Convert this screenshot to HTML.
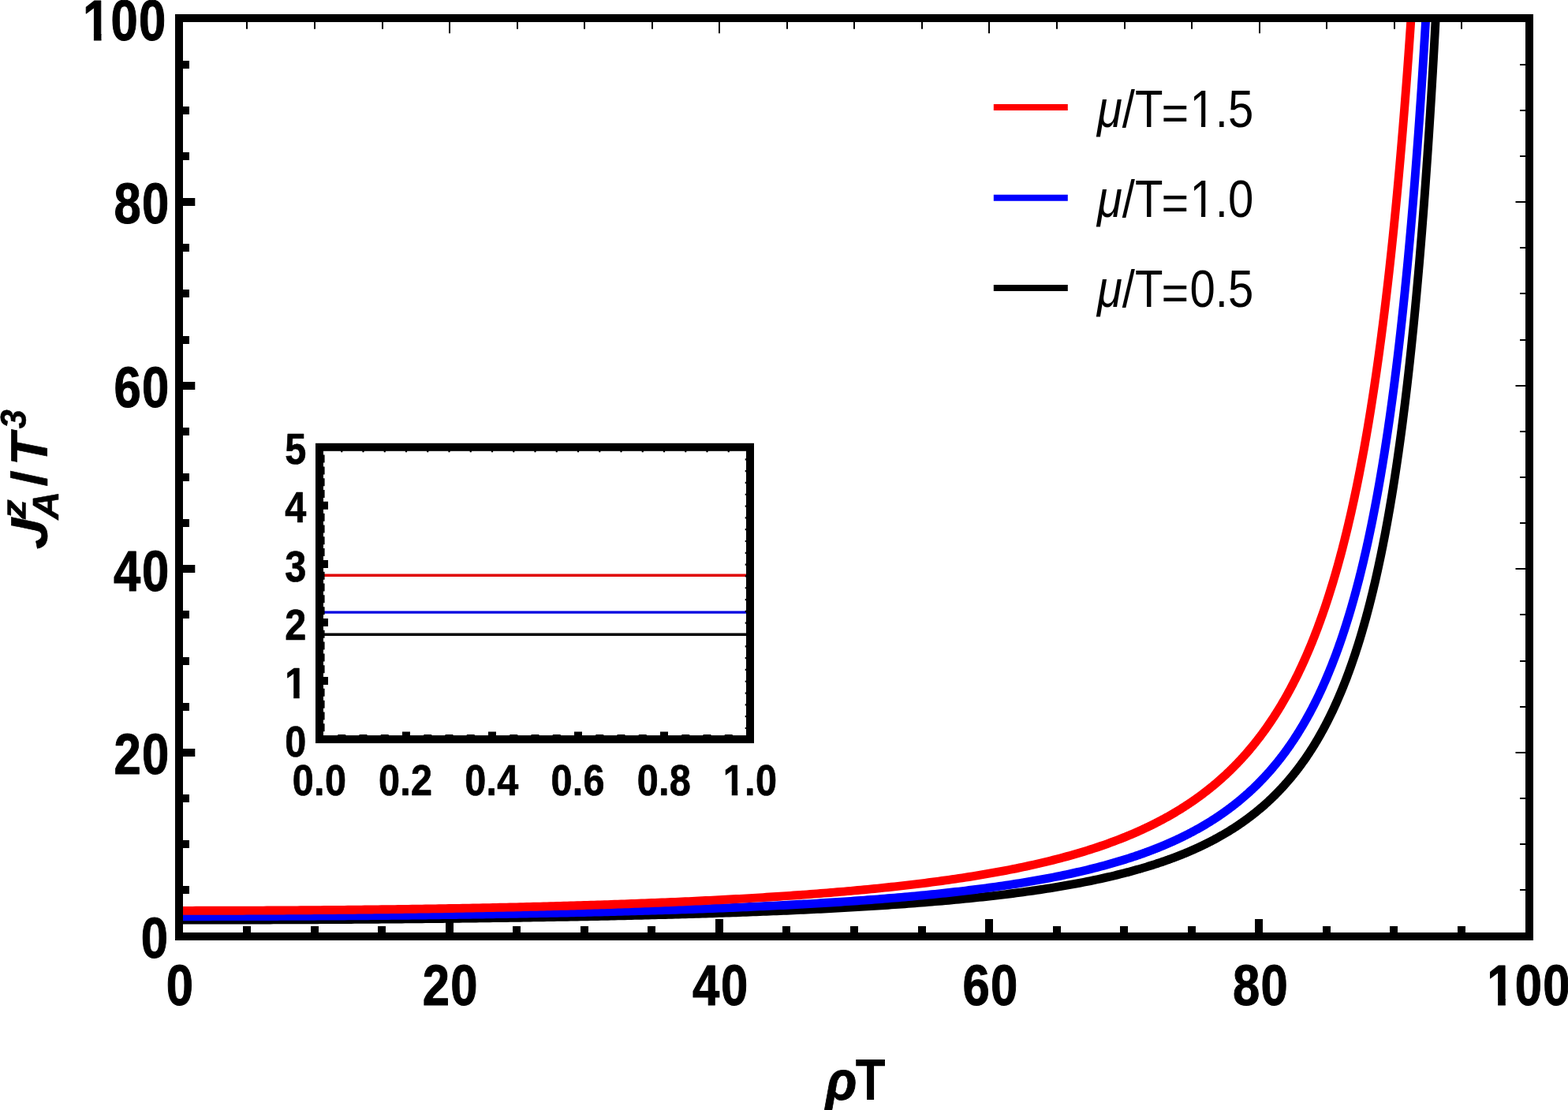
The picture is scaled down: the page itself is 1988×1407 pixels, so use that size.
<!DOCTYPE html>
<html lang="en"><head><meta charset="utf-8"><title>Axial current versus radius</title>
<style>html,body{margin:0;padding:0;background:#fff;}body{width:1988px;height:1407px;overflow:hidden;}svg{display:block;}text{font-family:"Liberation Sans","DejaVu Sans",sans-serif;fill:#000;}.b{font-weight:bold;}.i{font-style:italic;}.r{font-weight:normal;}</style></head><body>
<svg width="1988" height="1407" viewBox="0 0 1988 1407">
<rect x="0" y="0" width="1988" height="1407" fill="#ffffff"/>
<defs><clipPath id="pc"><rect x="227.00" y="23.00" width="1712.00" height="1164.00"/></clipPath><clipPath id="ic"><rect x="405.00" y="566.80" width="546.00" height="370.30"/></clipPath></defs>
<g clip-path="url(#pc)" fill="none" stroke-width="10.9" stroke-linejoin="round">
<path d="M227.00,1166.13 L231.28,1166.13 L235.56,1166.12 L239.84,1166.12 L244.12,1166.12 L248.40,1166.12 L252.68,1166.12 L256.96,1166.11 L261.24,1166.11 L265.52,1166.10 L269.80,1166.10 L274.08,1166.09 L278.36,1166.09 L282.64,1166.08 L286.92,1166.07 L291.20,1166.07 L295.48,1166.06 L299.76,1166.05 L304.04,1166.04 L308.32,1166.03 L312.60,1166.02 L316.88,1166.01 L321.16,1166.00 L325.44,1165.99 L329.72,1165.97 L334.00,1165.96 L338.28,1165.95 L342.56,1165.93 L346.84,1165.92 L351.12,1165.90 L355.40,1165.89 L359.68,1165.87 L363.96,1165.86 L368.24,1165.84 L372.52,1165.82 L376.80,1165.80 L381.08,1165.78 L385.36,1165.76 L389.64,1165.74 L393.92,1165.72 L398.20,1165.70 L402.48,1165.68 L406.76,1165.66 L411.04,1165.63 L415.32,1165.61 L419.60,1165.59 L423.88,1165.56 L428.16,1165.54 L432.44,1165.51 L436.72,1165.48 L441.00,1165.46 L445.28,1165.43 L449.56,1165.40 L453.84,1165.37 L458.12,1165.34 L462.40,1165.31 L466.68,1165.28 L470.96,1165.25 L475.24,1165.22 L479.52,1165.19 L483.80,1165.15 L488.08,1165.12 L492.36,1165.09 L496.64,1165.05 L500.92,1165.01 L505.20,1164.98 L509.48,1164.94 L513.76,1164.90 L518.04,1164.86 L522.32,1164.83 L526.60,1164.79 L530.88,1164.75 L535.16,1164.70 L539.44,1164.66 L543.72,1164.62 L548.00,1164.58 L552.28,1164.53 L556.56,1164.49 L560.84,1164.44 L565.12,1164.40 L569.40,1164.35 L573.68,1164.30 L577.96,1164.25 L582.24,1164.21 L586.52,1164.16 L590.80,1164.10 L595.08,1164.05 L599.36,1164.00 L603.64,1163.95 L607.92,1163.89 L612.20,1163.84 L616.48,1163.78 L620.76,1163.73 L625.04,1163.67 L629.32,1163.61 L633.60,1163.56 L637.88,1163.50 L642.16,1163.44 L646.44,1163.37 L650.72,1163.31 L655.00,1163.25 L659.28,1163.19 L663.56,1163.12 L667.84,1163.06 L672.12,1162.99 L676.40,1162.92 L680.68,1162.85 L684.96,1162.78 L689.24,1162.71 L693.52,1162.64 L697.80,1162.57 L702.08,1162.50 L706.36,1162.42 L710.64,1162.35 L714.92,1162.27 L719.20,1162.19 L723.48,1162.12 L727.76,1162.04 L732.04,1161.96 L736.32,1161.88 L740.60,1161.79 L744.88,1161.71 L749.16,1161.62 L753.44,1161.54 L757.72,1161.45 L762.00,1161.36 L766.28,1161.27 L770.56,1161.18 L774.84,1161.09 L779.12,1161.00 L783.40,1160.90 L787.68,1160.81 L791.96,1160.71 L796.24,1160.61 L800.52,1160.51 L804.80,1160.41 L809.08,1160.31 L813.36,1160.21 L817.64,1160.10 L821.92,1160.00 L826.20,1159.89 L830.48,1159.78 L834.76,1159.67 L839.04,1159.56 L843.32,1159.45 L847.60,1159.33 L851.88,1159.22 L856.16,1159.10 L860.44,1158.98 L864.72,1158.86 L869.00,1158.74 L873.28,1158.61 L877.56,1158.49 L881.84,1158.36 L886.12,1158.23 L890.40,1158.10 L894.68,1157.97 L898.96,1157.83 L903.24,1157.69 L907.52,1157.56 L911.80,1157.42 L916.08,1157.27 L920.36,1157.13 L924.64,1156.99 L928.92,1156.84 L933.20,1156.69 L937.48,1156.54 L941.76,1156.38 L946.04,1156.23 L950.32,1156.07 L954.60,1155.91 L958.88,1155.75 L963.16,1155.58 L967.44,1155.41 L971.72,1155.25 L976.00,1155.07 L980.28,1154.90 L984.56,1154.72 L988.84,1154.54 L993.12,1154.36 L997.40,1154.18 L1001.68,1153.99 L1005.96,1153.80 L1010.24,1153.61 L1014.52,1153.42 L1018.80,1153.22 L1023.08,1153.02 L1027.36,1152.82 L1031.64,1152.61 L1035.92,1152.40 L1040.20,1152.19 L1044.48,1151.97 L1048.76,1151.76 L1053.04,1151.53 L1057.32,1151.31 L1061.60,1151.08 L1065.88,1150.85 L1070.16,1150.62 L1074.44,1150.38 L1078.72,1150.14 L1083.00,1149.89 L1087.28,1149.64 L1091.56,1149.39 L1095.84,1149.13 L1100.12,1148.87 L1104.40,1148.61 L1108.68,1148.34 L1112.96,1148.06 L1117.24,1147.79 L1121.52,1147.50 L1125.80,1147.22 L1130.08,1146.93 L1134.36,1146.63 L1138.64,1146.33 L1142.92,1146.03 L1147.20,1145.72 L1151.48,1145.40 L1155.76,1145.08 L1160.04,1144.76 L1164.32,1144.43 L1168.60,1144.09 L1172.88,1143.75 L1177.16,1143.41 L1181.44,1143.05 L1185.72,1142.69 L1190.00,1142.33 L1194.28,1141.96 L1198.56,1141.58 L1202.84,1141.20 L1207.12,1140.81 L1211.40,1140.41 L1215.68,1140.01 L1219.96,1139.60 L1224.24,1139.18 L1228.52,1138.75 L1232.80,1138.32 L1237.08,1137.88 L1241.36,1137.43 L1245.64,1136.98 L1249.92,1136.51 L1254.20,1136.04 L1258.48,1135.56 L1262.76,1135.06 L1267.04,1134.56 L1271.32,1134.05 L1275.60,1133.54 L1279.88,1133.01 L1284.16,1132.47 L1288.44,1131.92 L1292.72,1131.36 L1297.00,1130.79 L1301.28,1130.20 L1305.56,1129.61 L1309.84,1129.01 L1314.12,1128.39 L1318.40,1127.76 L1322.68,1127.12 L1326.96,1126.46 L1331.24,1125.79 L1335.52,1125.11 L1339.80,1124.41 L1344.08,1123.70 L1348.36,1122.97 L1352.64,1122.23 L1356.92,1121.47 L1361.20,1120.70 L1365.48,1119.90 L1369.76,1119.10 L1374.04,1118.27 L1378.32,1117.42 L1382.60,1116.56 L1386.88,1115.68 L1391.16,1114.77 L1395.44,1113.85 L1399.72,1112.90 L1404.00,1111.94 L1408.28,1110.95 L1412.56,1109.93 L1416.84,1108.90 L1421.12,1107.83 L1425.40,1106.75 L1426.26,1106.52 L1427.11,1106.30 L1427.97,1106.08 L1428.82,1105.86 L1429.68,1105.63 L1430.54,1105.40 L1431.39,1105.18 L1432.25,1104.95 L1433.10,1104.72 L1433.96,1104.49 L1434.82,1104.26 L1435.67,1104.02 L1436.53,1103.79 L1437.38,1103.55 L1438.24,1103.32 L1439.10,1103.08 L1439.95,1102.84 L1440.81,1102.60 L1441.66,1102.36 L1442.52,1102.12 L1443.38,1101.87 L1444.23,1101.63 L1445.09,1101.38 L1445.94,1101.13 L1446.80,1100.89 L1447.66,1100.64 L1448.51,1100.39 L1449.37,1100.13 L1450.22,1099.88 L1451.08,1099.62 L1451.94,1099.37 L1452.79,1099.11 L1453.65,1098.85 L1454.50,1098.59 L1455.36,1098.33 L1456.22,1098.07 L1457.07,1097.80 L1457.93,1097.54 L1458.78,1097.27 L1459.64,1097.00 L1460.50,1096.73 L1461.35,1096.46 L1462.21,1096.19 L1463.06,1095.91 L1463.92,1095.64 L1464.78,1095.36 L1465.63,1095.08 L1466.49,1094.80 L1467.34,1094.52 L1468.20,1094.24 L1469.06,1093.95 L1469.91,1093.67 L1470.77,1093.38 L1471.62,1093.09 L1472.48,1092.80 L1473.34,1092.51 L1474.19,1092.22 L1475.05,1091.92 L1475.90,1091.62 L1476.76,1091.33 L1477.62,1091.03 L1478.47,1090.73 L1479.33,1090.42 L1480.18,1090.12 L1481.04,1089.81 L1481.90,1089.50 L1482.75,1089.19 L1483.61,1088.88 L1484.46,1088.57 L1485.32,1088.25 L1486.18,1087.94 L1487.03,1087.62 L1487.89,1087.30 L1488.74,1086.98 L1489.60,1086.65 L1490.46,1086.33 L1491.31,1086.00 L1492.17,1085.67 L1493.02,1085.34 L1493.88,1085.01 L1494.74,1084.67 L1495.59,1084.34 L1496.45,1084.00 L1497.30,1083.66 L1498.16,1083.32 L1499.02,1082.97 L1499.87,1082.63 L1500.73,1082.28 L1501.58,1081.93 L1502.44,1081.58 L1503.30,1081.22 L1504.15,1080.87 L1505.01,1080.51 L1505.86,1080.15 L1506.72,1079.79 L1507.58,1079.42 L1508.43,1079.05 L1509.29,1078.69 L1510.14,1078.32 L1511.00,1077.94 L1511.86,1077.57 L1512.71,1077.19 L1513.57,1076.81 L1514.42,1076.43 L1515.28,1076.05 L1516.14,1075.66 L1516.99,1075.27 L1517.85,1074.88 L1518.70,1074.49 L1519.56,1074.09 L1520.42,1073.69 L1521.27,1073.29 L1522.13,1072.89 L1522.98,1072.49 L1523.84,1072.08 L1524.70,1071.67 L1525.55,1071.26 L1526.41,1070.84 L1527.26,1070.43 L1528.12,1070.01 L1528.98,1069.58 L1529.83,1069.16 L1530.69,1068.73 L1531.54,1068.30 L1532.40,1067.87 L1533.26,1067.43 L1534.11,1067.00 L1534.97,1066.55 L1535.82,1066.11 L1536.68,1065.67 L1537.54,1065.22 L1538.39,1064.76 L1539.25,1064.31 L1540.10,1063.85 L1540.96,1063.39 L1541.82,1062.93 L1542.67,1062.46 L1543.53,1061.99 L1544.38,1061.52 L1545.24,1061.05 L1546.10,1060.57 L1546.95,1060.09 L1547.81,1059.60 L1548.66,1059.12 L1549.52,1058.63 L1550.38,1058.13 L1551.23,1057.64 L1552.09,1057.14 L1552.94,1056.63 L1553.80,1056.13 L1554.66,1055.62 L1555.51,1055.10 L1556.37,1054.59 L1557.22,1054.07 L1558.08,1053.55 L1558.94,1053.02 L1559.79,1052.49 L1560.65,1051.96 L1561.50,1051.42 L1562.36,1050.88 L1563.22,1050.33 L1564.07,1049.79 L1564.93,1049.24 L1565.78,1048.68 L1566.64,1048.12 L1567.50,1047.56 L1568.35,1046.99 L1569.21,1046.42 L1570.06,1045.85 L1570.92,1045.27 L1571.78,1044.69 L1572.63,1044.10 L1573.49,1043.51 L1574.34,1042.92 L1575.20,1042.32 L1576.06,1041.72 L1576.91,1041.11 L1577.77,1040.50 L1578.62,1039.89 L1579.48,1039.27 L1580.34,1038.65 L1581.19,1038.02 L1582.05,1037.39 L1582.90,1036.75 L1583.76,1036.11 L1584.62,1035.47 L1585.47,1034.82 L1586.33,1034.16 L1587.18,1033.50 L1588.04,1032.84 L1588.90,1032.17 L1589.75,1031.50 L1590.61,1030.82 L1591.46,1030.14 L1592.32,1029.45 L1593.18,1028.76 L1594.03,1028.06 L1594.89,1027.35 L1595.74,1026.65 L1596.60,1025.93 L1597.46,1025.21 L1598.31,1024.49 L1599.17,1023.76 L1600.02,1023.03 L1600.88,1022.29 L1601.74,1021.54 L1602.59,1020.79 L1603.45,1020.04 L1604.30,1019.27 L1605.16,1018.51 L1606.02,1017.73 L1606.87,1016.95 L1607.73,1016.17 L1608.58,1015.38 L1609.44,1014.58 L1610.30,1013.77 L1611.15,1012.97 L1612.01,1012.15 L1612.86,1011.33 L1613.72,1010.50 L1614.58,1009.66 L1615.43,1008.82 L1616.29,1007.98 L1617.14,1007.12 L1618.00,1006.26 L1618.86,1005.39 L1619.71,1004.52 L1620.57,1003.64 L1621.42,1002.75 L1622.28,1001.85 L1623.14,1000.95 L1623.99,1000.04 L1624.85,999.13 L1625.70,998.20 L1626.56,997.27 L1627.42,996.33 L1628.27,995.38 L1629.13,994.43 L1629.98,993.47 L1630.84,992.50 L1631.70,991.52 L1632.55,990.54 L1633.41,989.54 L1634.26,988.54 L1635.12,987.53 L1635.98,986.51 L1636.83,985.48 L1637.69,984.45 L1638.54,983.40 L1639.40,982.35 L1640.26,981.29 L1641.11,980.22 L1641.97,979.14 L1642.82,978.05 L1643.68,976.95 L1644.54,975.85 L1645.39,974.73 L1646.25,973.60 L1647.10,972.47 L1647.96,971.32 L1648.82,970.16 L1649.67,969.00 L1650.53,967.82 L1651.38,966.64 L1652.24,965.44 L1653.10,964.23 L1653.95,963.01 L1654.81,961.79 L1655.66,960.55 L1656.52,959.30 L1657.38,958.03 L1658.23,956.76 L1659.09,955.48 L1659.94,954.18 L1660.80,952.87 L1661.66,951.56 L1662.51,950.22 L1663.37,948.88 L1664.22,947.52 L1665.08,946.16 L1665.94,944.78 L1666.79,943.38 L1667.65,941.98 L1668.50,940.56 L1669.36,939.12 L1670.22,937.68 L1671.07,936.22 L1671.93,934.75 L1672.78,933.26 L1673.64,931.76 L1674.50,930.24 L1675.35,928.71 L1676.21,927.17 L1677.06,925.61 L1677.92,924.03 L1678.78,922.44 L1679.63,920.84 L1680.49,919.22 L1681.34,917.58 L1682.20,915.93 L1683.06,914.26 L1683.91,912.57 L1684.77,910.87 L1685.62,909.15 L1686.48,907.42 L1687.34,905.66 L1688.19,903.89 L1689.05,902.10 L1689.90,900.30 L1690.76,898.47 L1691.62,896.63 L1692.47,894.77 L1693.33,892.89 L1694.18,890.98 L1695.04,889.06 L1695.90,887.12 L1696.75,885.16 L1697.61,883.18 L1698.46,881.18 L1699.32,879.16 L1700.18,877.11 L1701.03,875.05 L1701.89,872.96 L1702.74,870.85 L1703.60,868.72 L1704.46,866.56 L1705.31,864.38 L1706.17,862.18 L1707.02,859.96 L1707.88,857.71 L1708.74,855.43 L1709.59,853.13 L1710.45,850.80 L1711.30,848.45 L1712.16,846.08 L1713.02,843.67 L1713.87,841.24 L1714.73,838.78 L1715.58,836.30 L1716.44,833.78 L1717.30,831.24 L1718.15,828.67 L1719.01,826.07 L1719.86,823.44 L1720.72,820.78 L1721.58,818.08 L1722.43,815.36 L1723.29,812.60 L1724.14,809.82 L1725.00,807.00 L1725.86,804.14 L1726.71,801.25 L1727.57,798.33 L1728.42,795.37 L1729.28,792.38 L1730.14,789.35 L1730.99,786.29 L1731.85,783.18 L1732.70,780.04 L1733.56,776.86 L1734.42,773.64 L1735.27,770.38 L1736.13,767.08 L1736.98,763.74 L1737.84,760.36 L1738.70,756.93 L1739.55,753.46 L1740.41,749.95 L1741.26,746.39 L1742.12,742.79 L1742.98,739.14 L1743.83,735.44 L1744.69,731.69 L1745.54,727.90 L1746.40,724.05 L1747.26,720.16 L1748.11,716.21 L1748.97,712.21 L1749.82,708.16 L1750.68,704.05 L1751.54,699.89 L1752.39,695.67 L1753.25,691.39 L1754.10,687.06 L1754.96,682.66 L1755.82,678.21 L1756.67,673.69 L1757.53,669.11 L1758.38,664.46 L1759.24,659.75 L1760.10,654.98 L1760.95,650.13 L1761.81,645.22 L1762.66,640.23 L1763.52,635.18 L1764.38,630.05 L1765.23,624.84 L1766.09,619.56 L1766.94,614.20 L1767.80,608.77 L1768.66,603.25 L1769.51,597.65 L1770.37,591.96 L1771.22,586.19 L1772.08,580.33 L1772.94,574.38 L1773.79,568.34 L1774.65,562.21 L1775.50,555.98 L1776.36,549.66 L1777.22,543.23 L1778.07,536.71 L1778.93,530.08 L1779.78,523.34 L1780.64,516.50 L1781.50,509.55 L1782.35,502.48 L1783.21,495.30 L1784.06,488.01 L1784.92,480.59 L1785.78,473.05 L1786.63,465.38 L1787.49,457.58 L1788.34,449.66 L1789.20,441.60 L1790.06,433.40 L1790.91,425.06 L1791.77,416.58 L1792.62,407.95 L1793.48,399.17 L1794.34,390.23 L1795.19,381.14 L1796.05,371.88 L1796.90,362.46 L1797.76,352.87 L1798.62,343.11 L1799.47,333.17 L1800.33,323.05 L1801.18,312.74 L1802.04,302.24 L1802.90,291.54 L1803.75,280.64 L1804.61,269.53 L1805.46,258.22 L1806.32,246.68 L1807.18,234.93 L1808.03,222.94 L1808.89,210.72 L1809.74,198.26 L1810.60,185.56 L1811.46,172.60 L1812.31,159.38 L1813.17,145.89 L1814.02,132.12 L1814.88,118.08 L1815.74,103.74 L1816.59,89.11 L1817.45,74.17 L1818.30,58.91 L1819.16,43.33 L1820.02,27.42 L1820.87,11.16 L1821.73,-5.45 L1822.58,-22.42 L1823.44,-39.77 L1824.30,-57.51 L1825.15,-75.64 L1826.01,-94.18 L1826.86,-113.14 L1827.72,-132.54 L1828.58,-152.38 L1829.43,-172.69 L1830.29,-193.47 L1831.14,-214.75 L1832.00,-236.53 L1832.86,-258.84 L1833.71,-281.68 L1834.57,-305.09 L1835.42,-329.07" stroke="#000000"/>
<path d="M227.00,1161.70 L231.28,1161.70 L235.56,1161.70 L239.84,1161.70 L244.12,1161.70 L248.40,1161.70 L252.68,1161.69 L256.96,1161.69 L261.24,1161.68 L265.52,1161.68 L269.80,1161.67 L274.08,1161.66 L278.36,1161.66 L282.64,1161.65 L286.92,1161.64 L291.20,1161.63 L295.48,1161.62 L299.76,1161.61 L304.04,1161.60 L308.32,1161.59 L312.60,1161.58 L316.88,1161.56 L321.16,1161.55 L325.44,1161.53 L329.72,1161.52 L334.00,1161.50 L338.28,1161.49 L342.56,1161.47 L346.84,1161.45 L351.12,1161.44 L355.40,1161.42 L359.68,1161.40 L363.96,1161.38 L368.24,1161.36 L372.52,1161.33 L376.80,1161.31 L381.08,1161.29 L385.36,1161.26 L389.64,1161.24 L393.92,1161.22 L398.20,1161.19 L402.48,1161.16 L406.76,1161.14 L411.04,1161.11 L415.32,1161.08 L419.60,1161.05 L423.88,1161.02 L428.16,1160.99 L432.44,1160.96 L436.72,1160.93 L441.00,1160.89 L445.28,1160.86 L449.56,1160.83 L453.84,1160.79 L458.12,1160.76 L462.40,1160.72 L466.68,1160.68 L470.96,1160.64 L475.24,1160.60 L479.52,1160.57 L483.80,1160.53 L488.08,1160.48 L492.36,1160.44 L496.64,1160.40 L500.92,1160.36 L505.20,1160.31 L509.48,1160.27 L513.76,1160.22 L518.04,1160.18 L522.32,1160.13 L526.60,1160.08 L530.88,1160.03 L535.16,1159.98 L539.44,1159.93 L543.72,1159.88 L548.00,1159.83 L552.28,1159.77 L556.56,1159.72 L560.84,1159.66 L565.12,1159.61 L569.40,1159.55 L573.68,1159.49 L577.96,1159.43 L582.24,1159.38 L586.52,1159.32 L590.80,1159.25 L595.08,1159.19 L599.36,1159.13 L603.64,1159.06 L607.92,1159.00 L612.20,1158.93 L616.48,1158.87 L620.76,1158.80 L625.04,1158.73 L629.32,1158.66 L633.60,1158.59 L637.88,1158.52 L642.16,1158.44 L646.44,1158.37 L650.72,1158.29 L655.00,1158.22 L659.28,1158.14 L663.56,1158.06 L667.84,1157.98 L672.12,1157.90 L676.40,1157.82 L680.68,1157.74 L684.96,1157.65 L689.24,1157.57 L693.52,1157.48 L697.80,1157.39 L702.08,1157.31 L706.36,1157.22 L710.64,1157.12 L714.92,1157.03 L719.20,1156.94 L723.48,1156.84 L727.76,1156.75 L732.04,1156.65 L736.32,1156.55 L740.60,1156.45 L744.88,1156.35 L749.16,1156.25 L753.44,1156.14 L757.72,1156.04 L762.00,1155.93 L766.28,1155.82 L770.56,1155.71 L774.84,1155.60 L779.12,1155.49 L783.40,1155.38 L787.68,1155.26 L791.96,1155.14 L796.24,1155.02 L800.52,1154.90 L804.80,1154.78 L809.08,1154.66 L813.36,1154.53 L817.64,1154.41 L821.92,1154.28 L826.20,1154.15 L830.48,1154.02 L834.76,1153.88 L839.04,1153.75 L843.32,1153.61 L847.60,1153.47 L851.88,1153.33 L856.16,1153.19 L860.44,1153.04 L864.72,1152.90 L869.00,1152.75 L873.28,1152.60 L877.56,1152.44 L881.84,1152.29 L886.12,1152.13 L890.40,1151.97 L894.68,1151.81 L898.96,1151.65 L903.24,1151.49 L907.52,1151.32 L911.80,1151.15 L916.08,1150.98 L920.36,1150.80 L924.64,1150.63 L928.92,1150.45 L933.20,1150.27 L937.48,1150.08 L941.76,1149.90 L946.04,1149.71 L950.32,1149.51 L954.60,1149.32 L958.88,1149.12 L963.16,1148.92 L967.44,1148.72 L971.72,1148.52 L976.00,1148.31 L980.28,1148.10 L984.56,1147.88 L988.84,1147.67 L993.12,1147.45 L997.40,1147.23 L1001.68,1147.00 L1005.96,1146.77 L1010.24,1146.54 L1014.52,1146.30 L1018.80,1146.06 L1023.08,1145.82 L1027.36,1145.57 L1031.64,1145.32 L1035.92,1145.07 L1040.20,1144.81 L1044.48,1144.55 L1048.76,1144.29 L1053.04,1144.02 L1057.32,1143.75 L1061.60,1143.47 L1065.88,1143.19 L1070.16,1142.91 L1074.44,1142.62 L1078.72,1142.33 L1083.00,1142.03 L1087.28,1141.73 L1091.56,1141.42 L1095.84,1141.11 L1100.12,1140.79 L1104.40,1140.47 L1108.68,1140.14 L1112.96,1139.81 L1117.24,1139.48 L1121.52,1139.14 L1125.80,1138.79 L1130.08,1138.44 L1134.36,1138.08 L1138.64,1137.72 L1142.92,1137.35 L1147.20,1136.97 L1151.48,1136.59 L1155.76,1136.20 L1160.04,1135.81 L1164.32,1135.41 L1168.60,1135.00 L1172.88,1134.59 L1177.16,1134.17 L1181.44,1133.74 L1185.72,1133.31 L1190.00,1132.87 L1194.28,1132.42 L1198.56,1131.96 L1202.84,1131.50 L1207.12,1131.02 L1211.40,1130.54 L1215.68,1130.05 L1219.96,1129.55 L1224.24,1129.05 L1228.52,1128.53 L1232.80,1128.01 L1237.08,1127.47 L1241.36,1126.93 L1245.64,1126.38 L1249.92,1125.81 L1254.20,1125.24 L1258.48,1124.66 L1262.76,1124.06 L1267.04,1123.45 L1271.32,1122.84 L1275.60,1122.21 L1279.88,1121.57 L1284.16,1120.91 L1288.44,1120.25 L1292.72,1119.57 L1297.00,1118.88 L1301.28,1118.17 L1305.56,1117.45 L1309.84,1116.72 L1314.12,1115.97 L1318.40,1115.21 L1322.68,1114.43 L1326.96,1113.63 L1331.24,1112.82 L1335.52,1111.99 L1339.80,1111.15 L1344.08,1110.29 L1348.36,1109.41 L1352.64,1108.51 L1356.92,1107.59 L1361.20,1106.65 L1365.48,1105.69 L1369.76,1104.71 L1374.04,1103.71 L1378.32,1102.68 L1382.60,1101.64 L1386.88,1100.57 L1391.16,1099.47 L1395.44,1098.35 L1399.72,1097.21 L1404.00,1096.03 L1408.28,1094.83 L1412.56,1093.61 L1416.84,1092.35 L1421.12,1091.06 L1425.40,1089.74 L1426.26,1089.47 L1427.11,1089.21 L1427.97,1088.93 L1428.82,1088.66 L1429.68,1088.39 L1430.54,1088.12 L1431.39,1087.84 L1432.25,1087.56 L1433.10,1087.29 L1433.96,1087.01 L1434.82,1086.72 L1435.67,1086.44 L1436.53,1086.16 L1437.38,1085.87 L1438.24,1085.59 L1439.10,1085.30 L1439.95,1085.01 L1440.81,1084.72 L1441.66,1084.43 L1442.52,1084.13 L1443.38,1083.84 L1444.23,1083.54 L1445.09,1083.24 L1445.94,1082.94 L1446.80,1082.64 L1447.66,1082.34 L1448.51,1082.03 L1449.37,1081.73 L1450.22,1081.42 L1451.08,1081.11 L1451.94,1080.80 L1452.79,1080.49 L1453.65,1080.17 L1454.50,1079.86 L1455.36,1079.54 L1456.22,1079.22 L1457.07,1078.90 L1457.93,1078.58 L1458.78,1078.26 L1459.64,1077.93 L1460.50,1077.61 L1461.35,1077.28 L1462.21,1076.95 L1463.06,1076.61 L1463.92,1076.28 L1464.78,1075.95 L1465.63,1075.61 L1466.49,1075.27 L1467.34,1074.93 L1468.20,1074.59 L1469.06,1074.24 L1469.91,1073.89 L1470.77,1073.55 L1471.62,1073.20 L1472.48,1072.84 L1473.34,1072.49 L1474.19,1072.13 L1475.05,1071.78 L1475.90,1071.42 L1476.76,1071.06 L1477.62,1070.69 L1478.47,1070.33 L1479.33,1069.96 L1480.18,1069.59 L1481.04,1069.22 L1481.90,1068.85 L1482.75,1068.47 L1483.61,1068.09 L1484.46,1067.71 L1485.32,1067.33 L1486.18,1066.95 L1487.03,1066.56 L1487.89,1066.18 L1488.74,1065.79 L1489.60,1065.39 L1490.46,1065.00 L1491.31,1064.60 L1492.17,1064.20 L1493.02,1063.80 L1493.88,1063.40 L1494.74,1062.99 L1495.59,1062.59 L1496.45,1062.18 L1497.30,1061.76 L1498.16,1061.35 L1499.02,1060.93 L1499.87,1060.51 L1500.73,1060.09 L1501.58,1059.67 L1502.44,1059.24 L1503.30,1058.81 L1504.15,1058.38 L1505.01,1057.95 L1505.86,1057.51 L1506.72,1057.07 L1507.58,1056.63 L1508.43,1056.18 L1509.29,1055.74 L1510.14,1055.29 L1511.00,1054.84 L1511.86,1054.38 L1512.71,1053.93 L1513.57,1053.47 L1514.42,1053.00 L1515.28,1052.54 L1516.14,1052.07 L1516.99,1051.60 L1517.85,1051.13 L1518.70,1050.65 L1519.56,1050.17 L1520.42,1049.69 L1521.27,1049.20 L1522.13,1048.72 L1522.98,1048.23 L1523.84,1047.73 L1524.70,1047.23 L1525.55,1046.74 L1526.41,1046.23 L1527.26,1045.73 L1528.12,1045.22 L1528.98,1044.71 L1529.83,1044.19 L1530.69,1043.67 L1531.54,1043.15 L1532.40,1042.63 L1533.26,1042.10 L1534.11,1041.57 L1534.97,1041.04 L1535.82,1040.50 L1536.68,1039.96 L1537.54,1039.41 L1538.39,1038.87 L1539.25,1038.32 L1540.10,1037.76 L1540.96,1037.20 L1541.82,1036.64 L1542.67,1036.08 L1543.53,1035.51 L1544.38,1034.94 L1545.24,1034.36 L1546.10,1033.78 L1546.95,1033.20 L1547.81,1032.61 L1548.66,1032.02 L1549.52,1031.43 L1550.38,1030.83 L1551.23,1030.23 L1552.09,1029.62 L1552.94,1029.01 L1553.80,1028.40 L1554.66,1027.78 L1555.51,1027.16 L1556.37,1026.53 L1557.22,1025.90 L1558.08,1025.27 L1558.94,1024.63 L1559.79,1023.99 L1560.65,1023.34 L1561.50,1022.69 L1562.36,1022.04 L1563.22,1021.38 L1564.07,1020.72 L1564.93,1020.05 L1565.78,1019.37 L1566.64,1018.70 L1567.50,1018.02 L1568.35,1017.33 L1569.21,1016.64 L1570.06,1015.94 L1570.92,1015.24 L1571.78,1014.54 L1572.63,1013.83 L1573.49,1013.11 L1574.34,1012.39 L1575.20,1011.67 L1576.06,1010.94 L1576.91,1010.21 L1577.77,1009.47 L1578.62,1008.72 L1579.48,1007.97 L1580.34,1007.22 L1581.19,1006.46 L1582.05,1005.69 L1582.90,1004.92 L1583.76,1004.14 L1584.62,1003.36 L1585.47,1002.57 L1586.33,1001.78 L1587.18,1000.98 L1588.04,1000.18 L1588.90,999.37 L1589.75,998.55 L1590.61,997.73 L1591.46,996.90 L1592.32,996.07 L1593.18,995.23 L1594.03,994.38 L1594.89,993.53 L1595.74,992.67 L1596.60,991.81 L1597.46,990.94 L1598.31,990.06 L1599.17,989.18 L1600.02,988.29 L1600.88,987.39 L1601.74,986.49 L1602.59,985.58 L1603.45,984.66 L1604.30,983.74 L1605.16,982.81 L1606.02,981.87 L1606.87,980.92 L1607.73,979.97 L1608.58,979.01 L1609.44,978.05 L1610.30,977.07 L1611.15,976.09 L1612.01,975.10 L1612.86,974.11 L1613.72,973.10 L1614.58,972.09 L1615.43,971.07 L1616.29,970.05 L1617.14,969.01 L1618.00,967.97 L1618.86,966.92 L1619.71,965.86 L1620.57,964.79 L1621.42,963.71 L1622.28,962.63 L1623.14,961.53 L1623.99,960.43 L1624.85,959.32 L1625.70,958.20 L1626.56,957.07 L1627.42,955.93 L1628.27,954.79 L1629.13,953.63 L1629.98,952.46 L1630.84,951.29 L1631.70,950.10 L1632.55,948.91 L1633.41,947.71 L1634.26,946.49 L1635.12,945.27 L1635.98,944.03 L1636.83,942.79 L1637.69,941.53 L1638.54,940.27 L1639.40,938.99 L1640.26,937.71 L1641.11,936.41 L1641.97,935.10 L1642.82,933.78 L1643.68,932.45 L1644.54,931.11 L1645.39,929.75 L1646.25,928.39 L1647.10,927.01 L1647.96,925.62 L1648.82,924.22 L1649.67,922.81 L1650.53,921.38 L1651.38,919.95 L1652.24,918.50 L1653.10,917.03 L1653.95,915.56 L1654.81,914.07 L1655.66,912.57 L1656.52,911.05 L1657.38,909.52 L1658.23,907.98 L1659.09,906.42 L1659.94,904.85 L1660.80,903.27 L1661.66,901.67 L1662.51,900.06 L1663.37,898.43 L1664.22,896.79 L1665.08,895.13 L1665.94,893.46 L1666.79,891.77 L1667.65,890.06 L1668.50,888.34 L1669.36,886.61 L1670.22,884.85 L1671.07,883.08 L1671.93,881.30 L1672.78,879.50 L1673.64,877.68 L1674.50,875.84 L1675.35,873.99 L1676.21,872.12 L1677.06,870.23 L1677.92,868.32 L1678.78,866.39 L1679.63,864.45 L1680.49,862.48 L1681.34,860.50 L1682.20,858.50 L1683.06,856.47 L1683.91,854.43 L1684.77,852.37 L1685.62,850.29 L1686.48,848.18 L1687.34,846.06 L1688.19,843.91 L1689.05,841.74 L1689.90,839.55 L1690.76,837.34 L1691.62,835.11 L1692.47,832.85 L1693.33,830.57 L1694.18,828.27 L1695.04,825.94 L1695.90,823.59 L1696.75,821.21 L1697.61,818.81 L1698.46,816.39 L1699.32,813.93 L1700.18,811.46 L1701.03,808.95 L1701.89,806.42 L1702.74,803.87 L1703.60,801.28 L1704.46,798.67 L1705.31,796.03 L1706.17,793.36 L1707.02,790.66 L1707.88,787.94 L1708.74,785.18 L1709.59,782.39 L1710.45,779.57 L1711.30,776.72 L1712.16,773.84 L1713.02,770.93 L1713.87,767.99 L1714.73,765.01 L1715.58,761.99 L1716.44,758.95 L1717.30,755.87 L1718.15,752.75 L1719.01,749.60 L1719.86,746.41 L1720.72,743.18 L1721.58,739.92 L1722.43,736.62 L1723.29,733.28 L1724.14,729.90 L1725.00,726.48 L1725.86,723.03 L1726.71,719.53 L1727.57,715.98 L1728.42,712.40 L1729.28,708.77 L1730.14,705.10 L1730.99,701.38 L1731.85,697.62 L1732.70,693.82 L1733.56,689.96 L1734.42,686.06 L1735.27,682.11 L1736.13,678.11 L1736.98,674.06 L1737.84,669.96 L1738.70,665.81 L1739.55,661.61 L1740.41,657.35 L1741.26,653.04 L1742.12,648.67 L1742.98,644.25 L1743.83,639.76 L1744.69,635.23 L1745.54,630.63 L1746.40,625.97 L1747.26,621.25 L1748.11,616.46 L1748.97,611.62 L1749.82,606.70 L1750.68,601.73 L1751.54,596.68 L1752.39,591.57 L1753.25,586.39 L1754.10,581.13 L1754.96,575.81 L1755.82,570.41 L1756.67,564.93 L1757.53,559.38 L1758.38,553.75 L1759.24,548.05 L1760.10,542.26 L1760.95,536.39 L1761.81,530.43 L1762.66,524.39 L1763.52,518.26 L1764.38,512.05 L1765.23,505.74 L1766.09,499.34 L1766.94,492.84 L1767.80,486.26 L1768.66,479.57 L1769.51,472.78 L1770.37,465.89 L1771.22,458.90 L1772.08,451.79 L1772.94,444.59 L1773.79,437.27 L1774.65,429.83 L1775.50,422.29 L1776.36,414.62 L1777.22,406.84 L1778.07,398.93 L1778.93,390.90 L1779.78,382.73 L1780.64,374.44 L1781.50,366.02 L1782.35,357.45 L1783.21,348.75 L1784.06,339.91 L1784.92,330.92 L1785.78,321.78 L1786.63,312.49 L1787.49,303.04 L1788.34,293.44 L1789.20,283.67 L1790.06,273.73 L1790.91,263.63 L1791.77,253.35 L1792.62,242.89 L1793.48,232.25 L1794.34,221.42 L1795.19,210.40 L1796.05,199.18 L1796.90,187.77 L1797.76,176.15 L1798.62,164.31 L1799.47,152.27 L1800.33,140.00 L1801.18,127.50 L1802.04,114.78 L1802.90,101.81 L1803.75,88.61 L1804.61,75.15 L1805.46,61.43 L1806.32,47.46 L1807.18,33.21 L1808.03,18.69 L1808.89,3.88 L1809.74,-11.22 L1810.60,-26.62 L1811.46,-42.33 L1812.31,-58.35 L1813.17,-74.70 L1814.02,-91.37 L1814.88,-108.40 L1815.74,-125.77 L1816.59,-143.50 L1817.45,-161.61 L1818.30,-180.10 L1819.16,-198.98 L1820.02,-218.26 L1820.87,-237.97 L1821.73,-258.10 L1822.58,-278.67 L1823.44,-299.69 L1824.30,-321.18 L1825.15,-343.16" stroke="#0000ff"/>
<path d="M227.00,1154.33 L231.28,1154.33 L235.56,1154.33 L239.84,1154.33 L244.12,1154.33 L248.40,1154.32 L252.68,1154.32 L256.96,1154.31 L261.24,1154.31 L265.52,1154.30 L269.80,1154.29 L274.08,1154.28 L278.36,1154.27 L282.64,1154.26 L286.92,1154.25 L291.20,1154.24 L295.48,1154.23 L299.76,1154.21 L304.04,1154.20 L308.32,1154.18 L312.60,1154.17 L316.88,1154.15 L321.16,1154.13 L325.44,1154.11 L329.72,1154.10 L334.00,1154.08 L338.28,1154.05 L342.56,1154.03 L346.84,1154.01 L351.12,1153.99 L355.40,1153.96 L359.68,1153.94 L363.96,1153.91 L368.24,1153.88 L372.52,1153.85 L376.80,1153.83 L381.08,1153.80 L385.36,1153.77 L389.64,1153.73 L393.92,1153.70 L398.20,1153.67 L402.48,1153.63 L406.76,1153.60 L411.04,1153.56 L415.32,1153.53 L419.60,1153.49 L423.88,1153.45 L428.16,1153.41 L432.44,1153.37 L436.72,1153.33 L441.00,1153.29 L445.28,1153.24 L449.56,1153.20 L453.84,1153.15 L458.12,1153.11 L462.40,1153.06 L466.68,1153.01 L470.96,1152.96 L475.24,1152.91 L479.52,1152.86 L483.80,1152.81 L488.08,1152.76 L492.36,1152.70 L496.64,1152.65 L500.92,1152.59 L505.20,1152.54 L509.48,1152.48 L513.76,1152.42 L518.04,1152.36 L522.32,1152.30 L526.60,1152.24 L530.88,1152.17 L535.16,1152.11 L539.44,1152.04 L543.72,1151.98 L548.00,1151.91 L552.28,1151.84 L556.56,1151.77 L560.84,1151.70 L565.12,1151.63 L569.40,1151.55 L573.68,1151.48 L577.96,1151.40 L582.24,1151.33 L586.52,1151.25 L590.80,1151.17 L595.08,1151.09 L599.36,1151.01 L603.64,1150.92 L607.92,1150.84 L612.20,1150.76 L616.48,1150.67 L620.76,1150.58 L625.04,1150.49 L629.32,1150.40 L633.60,1150.31 L637.88,1150.22 L642.16,1150.12 L646.44,1150.03 L650.72,1149.93 L655.00,1149.83 L659.28,1149.73 L663.56,1149.63 L667.84,1149.53 L672.12,1149.42 L676.40,1149.32 L680.68,1149.21 L684.96,1149.10 L689.24,1148.99 L693.52,1148.88 L697.80,1148.77 L702.08,1148.65 L706.36,1148.54 L710.64,1148.42 L714.92,1148.30 L719.20,1148.18 L723.48,1148.06 L727.76,1147.93 L732.04,1147.81 L736.32,1147.68 L740.60,1147.55 L744.88,1147.42 L749.16,1147.29 L753.44,1147.15 L757.72,1147.02 L762.00,1146.88 L766.28,1146.74 L770.56,1146.60 L774.84,1146.45 L779.12,1146.31 L783.40,1146.16 L787.68,1146.01 L791.96,1145.86 L796.24,1145.71 L800.52,1145.55 L804.80,1145.39 L809.08,1145.23 L813.36,1145.07 L817.64,1144.91 L821.92,1144.74 L826.20,1144.57 L830.48,1144.40 L834.76,1144.23 L839.04,1144.06 L843.32,1143.88 L847.60,1143.70 L851.88,1143.52 L856.16,1143.33 L860.44,1143.15 L864.72,1142.96 L869.00,1142.77 L873.28,1142.57 L877.56,1142.37 L881.84,1142.18 L886.12,1141.97 L890.40,1141.77 L894.68,1141.56 L898.96,1141.35 L903.24,1141.14 L907.52,1140.92 L911.80,1140.70 L916.08,1140.48 L920.36,1140.25 L924.64,1140.03 L928.92,1139.80 L933.20,1139.56 L937.48,1139.32 L941.76,1139.08 L946.04,1138.84 L950.32,1138.59 L954.60,1138.34 L958.88,1138.09 L963.16,1137.83 L967.44,1137.57 L971.72,1137.30 L976.00,1137.04 L980.28,1136.76 L984.56,1136.49 L988.84,1136.21 L993.12,1135.92 L997.40,1135.64 L1001.68,1135.34 L1005.96,1135.05 L1010.24,1134.75 L1014.52,1134.44 L1018.80,1134.13 L1023.08,1133.82 L1027.36,1133.50 L1031.64,1133.18 L1035.92,1132.85 L1040.20,1132.52 L1044.48,1132.19 L1048.76,1131.84 L1053.04,1131.50 L1057.32,1131.15 L1061.60,1130.79 L1065.88,1130.43 L1070.16,1130.06 L1074.44,1129.69 L1078.72,1129.31 L1083.00,1128.92 L1087.28,1128.53 L1091.56,1128.14 L1095.84,1127.74 L1100.12,1127.33 L1104.40,1126.91 L1108.68,1126.49 L1112.96,1126.06 L1117.24,1125.63 L1121.52,1125.19 L1125.80,1124.74 L1130.08,1124.29 L1134.36,1123.83 L1138.64,1123.36 L1142.92,1122.88 L1147.20,1122.39 L1151.48,1121.90 L1155.76,1121.40 L1160.04,1120.89 L1164.32,1120.38 L1168.60,1119.85 L1172.88,1119.32 L1177.16,1118.78 L1181.44,1118.22 L1185.72,1117.66 L1190.00,1117.09 L1194.28,1116.51 L1198.56,1115.92 L1202.84,1115.32 L1207.12,1114.71 L1211.40,1114.09 L1215.68,1113.46 L1219.96,1112.82 L1224.24,1112.16 L1228.52,1111.50 L1232.80,1110.82 L1237.08,1110.13 L1241.36,1109.43 L1245.64,1108.71 L1249.92,1107.99 L1254.20,1107.24 L1258.48,1106.49 L1262.76,1105.72 L1267.04,1104.94 L1271.32,1104.14 L1275.60,1103.33 L1279.88,1102.50 L1284.16,1101.66 L1288.44,1100.80 L1292.72,1099.92 L1297.00,1099.03 L1301.28,1098.12 L1305.56,1097.19 L1309.84,1096.24 L1314.12,1095.27 L1318.40,1094.29 L1322.68,1093.28 L1326.96,1092.25 L1331.24,1091.21 L1335.52,1090.14 L1339.80,1089.05 L1344.08,1087.93 L1348.36,1086.80 L1352.64,1085.63 L1356.92,1084.45 L1361.20,1083.23 L1365.48,1082.00 L1369.76,1080.73 L1374.04,1079.44 L1378.32,1078.12 L1382.60,1076.76 L1386.88,1075.38 L1391.16,1073.97 L1395.44,1072.52 L1399.72,1071.04 L1404.00,1069.53 L1408.28,1067.98 L1412.56,1066.39 L1416.84,1064.77 L1421.12,1063.11 L1425.40,1061.40 L1426.26,1061.06 L1427.11,1060.71 L1427.97,1060.36 L1428.82,1060.01 L1429.68,1059.66 L1430.54,1059.30 L1431.39,1058.95 L1432.25,1058.59 L1433.10,1058.23 L1433.96,1057.87 L1434.82,1057.51 L1435.67,1057.14 L1436.53,1056.78 L1437.38,1056.41 L1438.24,1056.04 L1439.10,1055.66 L1439.95,1055.29 L1440.81,1054.92 L1441.66,1054.54 L1442.52,1054.16 L1443.38,1053.78 L1444.23,1053.39 L1445.09,1053.01 L1445.94,1052.62 L1446.80,1052.23 L1447.66,1051.84 L1448.51,1051.45 L1449.37,1051.05 L1450.22,1050.66 L1451.08,1050.26 L1451.94,1049.86 L1452.79,1049.45 L1453.65,1049.05 L1454.50,1048.64 L1455.36,1048.23 L1456.22,1047.82 L1457.07,1047.41 L1457.93,1046.99 L1458.78,1046.57 L1459.64,1046.15 L1460.50,1045.73 L1461.35,1045.31 L1462.21,1044.88 L1463.06,1044.45 L1463.92,1044.02 L1464.78,1043.59 L1465.63,1043.15 L1466.49,1042.71 L1467.34,1042.27 L1468.20,1041.83 L1469.06,1041.38 L1469.91,1040.94 L1470.77,1040.49 L1471.62,1040.04 L1472.48,1039.58 L1473.34,1039.12 L1474.19,1038.66 L1475.05,1038.20 L1475.90,1037.74 L1476.76,1037.27 L1477.62,1036.80 L1478.47,1036.33 L1479.33,1035.86 L1480.18,1035.38 L1481.04,1034.90 L1481.90,1034.42 L1482.75,1033.93 L1483.61,1033.45 L1484.46,1032.96 L1485.32,1032.46 L1486.18,1031.97 L1487.03,1031.47 L1487.89,1030.97 L1488.74,1030.46 L1489.60,1029.96 L1490.46,1029.45 L1491.31,1028.94 L1492.17,1028.42 L1493.02,1027.90 L1493.88,1027.38 L1494.74,1026.86 L1495.59,1026.33 L1496.45,1025.80 L1497.30,1025.27 L1498.16,1024.74 L1499.02,1024.20 L1499.87,1023.66 L1500.73,1023.11 L1501.58,1022.56 L1502.44,1022.01 L1503.30,1021.46 L1504.15,1020.90 L1505.01,1020.34 L1505.86,1019.78 L1506.72,1019.21 L1507.58,1018.64 L1508.43,1018.07 L1509.29,1017.49 L1510.14,1016.91 L1511.00,1016.33 L1511.86,1015.74 L1512.71,1015.15 L1513.57,1014.56 L1514.42,1013.96 L1515.28,1013.36 L1516.14,1012.75 L1516.99,1012.15 L1517.85,1011.53 L1518.70,1010.92 L1519.56,1010.30 L1520.42,1009.68 L1521.27,1009.05 L1522.13,1008.42 L1522.98,1007.79 L1523.84,1007.15 L1524.70,1006.51 L1525.55,1005.86 L1526.41,1005.22 L1527.26,1004.56 L1528.12,1003.91 L1528.98,1003.24 L1529.83,1002.58 L1530.69,1001.91 L1531.54,1001.24 L1532.40,1000.56 L1533.26,999.88 L1534.11,999.19 L1534.97,998.50 L1535.82,997.81 L1536.68,997.11 L1537.54,996.41 L1538.39,995.70 L1539.25,994.99 L1540.10,994.28 L1540.96,993.55 L1541.82,992.83 L1542.67,992.10 L1543.53,991.37 L1544.38,990.63 L1545.24,989.88 L1546.10,989.14 L1546.95,988.38 L1547.81,987.63 L1548.66,986.86 L1549.52,986.10 L1550.38,985.32 L1551.23,984.55 L1552.09,983.76 L1552.94,982.98 L1553.80,982.19 L1554.66,981.39 L1555.51,980.59 L1556.37,979.78 L1557.22,978.96 L1558.08,978.15 L1558.94,977.32 L1559.79,976.49 L1560.65,975.66 L1561.50,974.82 L1562.36,973.97 L1563.22,973.12 L1564.07,972.26 L1564.93,971.40 L1565.78,970.53 L1566.64,969.66 L1567.50,968.78 L1568.35,967.89 L1569.21,967.00 L1570.06,966.10 L1570.92,965.20 L1571.78,964.29 L1572.63,963.37 L1573.49,962.45 L1574.34,961.52 L1575.20,960.58 L1576.06,959.64 L1576.91,958.69 L1577.77,957.74 L1578.62,956.77 L1579.48,955.81 L1580.34,954.83 L1581.19,953.85 L1582.05,952.86 L1582.90,951.86 L1583.76,950.86 L1584.62,949.85 L1585.47,948.83 L1586.33,947.81 L1587.18,946.78 L1588.04,945.74 L1588.90,944.69 L1589.75,943.64 L1590.61,942.58 L1591.46,941.51 L1592.32,940.43 L1593.18,939.35 L1594.03,938.26 L1594.89,937.16 L1595.74,936.05 L1596.60,934.93 L1597.46,933.81 L1598.31,932.67 L1599.17,931.53 L1600.02,930.38 L1600.88,929.23 L1601.74,928.06 L1602.59,926.89 L1603.45,925.70 L1604.30,924.51 L1605.16,923.31 L1606.02,922.10 L1606.87,920.88 L1607.73,919.65 L1608.58,918.41 L1609.44,917.16 L1610.30,915.90 L1611.15,914.64 L1612.01,913.36 L1612.86,912.07 L1613.72,910.78 L1614.58,909.47 L1615.43,908.16 L1616.29,906.83 L1617.14,905.49 L1618.00,904.14 L1618.86,902.79 L1619.71,901.42 L1620.57,900.04 L1621.42,898.65 L1622.28,897.25 L1623.14,895.84 L1623.99,894.41 L1624.85,892.98 L1625.70,891.53 L1626.56,890.07 L1627.42,888.60 L1628.27,887.12 L1629.13,885.63 L1629.98,884.12 L1630.84,882.61 L1631.70,881.08 L1632.55,879.53 L1633.41,877.98 L1634.26,876.41 L1635.12,874.83 L1635.98,873.24 L1636.83,871.63 L1637.69,870.01 L1638.54,868.37 L1639.40,866.73 L1640.26,865.07 L1641.11,863.39 L1641.97,861.70 L1642.82,860.00 L1643.68,858.28 L1644.54,856.54 L1645.39,854.80 L1646.25,853.03 L1647.10,851.26 L1647.96,849.46 L1648.82,847.65 L1649.67,845.83 L1650.53,843.99 L1651.38,842.13 L1652.24,840.26 L1653.10,838.37 L1653.95,836.46 L1654.81,834.54 L1655.66,832.60 L1656.52,830.65 L1657.38,828.67 L1658.23,826.68 L1659.09,824.67 L1659.94,822.64 L1660.80,820.60 L1661.66,818.53 L1662.51,816.45 L1663.37,814.34 L1664.22,812.22 L1665.08,810.08 L1665.94,807.92 L1666.79,805.74 L1667.65,803.54 L1668.50,801.32 L1669.36,799.08 L1670.22,796.81 L1671.07,794.53 L1671.93,792.22 L1672.78,789.90 L1673.64,787.55 L1674.50,785.17 L1675.35,782.78 L1676.21,780.36 L1677.06,777.92 L1677.92,775.46 L1678.78,772.97 L1679.63,770.46 L1680.49,767.92 L1681.34,765.36 L1682.20,762.77 L1683.06,760.16 L1683.91,757.53 L1684.77,754.86 L1685.62,752.17 L1686.48,749.46 L1687.34,746.71 L1688.19,743.94 L1689.05,741.14 L1689.90,738.31 L1690.76,735.46 L1691.62,732.57 L1692.47,729.66 L1693.33,726.71 L1694.18,723.74 L1695.04,720.73 L1695.90,717.70 L1696.75,714.63 L1697.61,711.53 L1698.46,708.39 L1699.32,705.23 L1700.18,702.03 L1701.03,698.80 L1701.89,695.53 L1702.74,692.23 L1703.60,688.89 L1704.46,685.52 L1705.31,682.11 L1706.17,678.66 L1707.02,675.18 L1707.88,671.66 L1708.74,668.10 L1709.59,664.50 L1710.45,660.86 L1711.30,657.18 L1712.16,653.46 L1713.02,649.69 L1713.87,645.89 L1714.73,642.04 L1715.58,638.15 L1716.44,634.22 L1717.30,630.24 L1718.15,626.22 L1719.01,622.15 L1719.86,618.03 L1720.72,613.86 L1721.58,609.65 L1722.43,605.39 L1723.29,601.07 L1724.14,596.71 L1725.00,592.30 L1725.86,587.83 L1726.71,583.31 L1727.57,578.74 L1728.42,574.11 L1729.28,569.42 L1730.14,564.68 L1730.99,559.88 L1731.85,555.03 L1732.70,550.11 L1733.56,545.13 L1734.42,540.10 L1735.27,534.99 L1736.13,529.83 L1736.98,524.60 L1737.84,519.31 L1738.70,513.95 L1739.55,508.52 L1740.41,503.02 L1741.26,497.45 L1742.12,491.81 L1742.98,486.10 L1743.83,480.31 L1744.69,474.45 L1745.54,468.51 L1746.40,462.49 L1747.26,456.39 L1748.11,450.22 L1748.97,443.96 L1749.82,437.62 L1750.68,431.19 L1751.54,424.67 L1752.39,418.07 L1753.25,411.38 L1754.10,404.59 L1754.96,397.71 L1755.82,390.74 L1756.67,383.67 L1757.53,376.50 L1758.38,369.23 L1759.24,361.86 L1760.10,354.39 L1760.95,346.81 L1761.81,339.12 L1762.66,331.32 L1763.52,323.40 L1764.38,315.37 L1765.23,307.23 L1766.09,298.97 L1766.94,290.58 L1767.80,282.07 L1768.66,273.43 L1769.51,264.67 L1770.37,255.77 L1771.22,246.74 L1772.08,237.57 L1772.94,228.26 L1773.79,218.81 L1774.65,209.21 L1775.50,199.46 L1776.36,189.56 L1777.22,179.51 L1778.07,169.30 L1778.93,158.92 L1779.78,148.38 L1780.64,137.67 L1781.50,126.79 L1782.35,115.74 L1783.21,104.50 L1784.06,93.08 L1784.92,81.47 L1785.78,69.67 L1786.63,57.67 L1787.49,45.47 L1788.34,33.06 L1789.20,20.45 L1790.06,7.62 L1790.91,-5.43 L1791.77,-18.71 L1792.62,-32.21 L1793.48,-45.96 L1794.34,-59.94 L1795.19,-74.17 L1796.05,-88.65 L1796.90,-103.39 L1797.76,-118.40 L1798.62,-133.68 L1799.47,-149.24 L1800.33,-165.08 L1801.18,-181.22 L1802.04,-197.65 L1802.90,-214.39 L1803.75,-231.45 L1804.61,-248.83 L1805.46,-266.54 L1806.32,-284.59 L1807.18,-302.99 L1808.03,-321.74 L1808.89,-340.87" stroke="#ff0000"/>
</g>
<rect x="227.00" y="23.00" width="1712.00" height="1164.00" fill="none" stroke="#000" stroke-width="10"/>
<path d="M227.00,1128.00H240.00M313.00,1187.00V1174.00M227.00,1070.00H240.00M399.00,1187.00V1174.00M227.00,1012.00H240.00M484.00,1187.00V1174.00M227.00,954.00H247.30M570.00,1187.00V1165.00M227.00,896.00H240.00M655.00,1187.00V1174.00M227.00,838.00H240.00M741.00,1187.00V1174.00M227.00,779.00H240.00M826.00,1187.00V1174.00M227.00,721.00H247.30M912.00,1187.00V1165.00M227.00,663.00H240.00M997.00,1187.00V1174.00M227.00,605.00H240.00M1083.00,1187.00V1174.00M227.00,547.00H240.00M1169.00,1187.00V1174.00M227.00,489.00H247.30M1254.00,1187.00V1165.00M227.00,431.00H240.00M1340.00,1187.00V1174.00M227.00,372.00H240.00M1425.00,1187.00V1174.00M227.00,314.00H240.00M1511.00,1187.00V1174.00M227.00,256.00H247.30M1596.00,1187.00V1165.00M227.00,198.00H240.00M1682.00,1187.00V1174.00M227.00,140.00H240.00M1767.00,1187.00V1174.00M227.00,82.00H240.00M1853.00,1187.00V1174.00" fill="none" stroke="#000" stroke-width="10"/>
<path d="M313.00,23.00V36.70M1939.00,1128.00H1927.00M399.00,23.00V36.70M1939.00,1070.00H1927.00M485.00,23.00V36.70M1939.00,1012.00H1927.00M570.00,23.00V42.20M1939.00,954.00H1921.50M656.00,23.00V36.70M1939.00,896.00H1927.00M741.00,23.00V36.70M1939.00,838.00H1927.00M827.00,23.00V36.70M1939.00,779.00H1927.00M912.00,23.00V42.20M1939.00,721.00H1921.50M998.00,23.00V36.70M1939.00,663.00H1927.00M1083.00,23.00V36.70M1939.00,605.00H1927.00M1169.00,23.00V36.70M1939.00,547.00H1927.00M1254.00,23.00V42.20M1939.00,489.00H1921.50M1340.00,23.00V36.70M1939.00,431.00H1927.00M1426.00,23.00V36.70M1939.00,372.00H1927.00M1511.00,23.00V36.70M1939.00,314.00H1927.00M1597.00,23.00V42.20M1939.00,256.00H1921.50M1682.00,23.00V36.70M1939.00,198.00H1927.00M1768.00,23.00V36.70M1939.00,140.00H1927.00M1853.00,23.00V36.70M1939.00,82.00H1927.00" fill="none" stroke="#000" stroke-width="2"/>
<path d="M1259.8,136.00H1353.8" stroke="#ff0000" stroke-width="8" fill="none"/>
<path d="M1259.8,250.80H1353.8" stroke="#0000ff" stroke-width="8" fill="none"/>
<path d="M1259.8,365.00H1353.8" stroke="#000000" stroke-width="8" fill="none"/>
<g clip-path="url(#ic)" fill="none" stroke-width="3.4">
<path d="M405.00,804.29H951.00" stroke="#000000"/>
<path d="M405.00,776.15H951.00" stroke="#0000e0"/>
<path d="M405.00,729.25H951.00" stroke="#e00000"/>
</g>
<rect x="405.00" y="566.80" width="546.00" height="370.30" fill="none" stroke="#000" stroke-width="10"/>
<path d="M433.25,937.10V931.00M460.50,937.10V931.00M487.75,937.10V931.00M515.00,937.10V927.40M542.25,937.10V931.00M569.50,937.10V931.00M596.75,937.10V931.00M624.00,937.10V927.40M651.25,937.10V931.00M678.50,937.10V931.00M705.75,937.10V931.00M733.00,937.10V927.40M760.25,937.10V931.00M787.50,937.10V931.00M814.75,937.10V931.00M842.00,937.10V927.40M869.25,937.10V931.00M896.50,937.10V931.00M923.75,937.10V931.00M405.00,922.29H411.60M405.00,907.48H411.60M405.00,892.66H411.60M405.00,877.85H411.60M405.00,863.04H416.00M405.00,848.23H411.60M405.00,833.42H411.60M405.00,818.60H411.60M405.00,803.79H411.60M405.00,788.98H416.00M405.00,774.17H411.60M405.00,759.36H411.60M405.00,744.54H411.60M405.00,729.73H411.60M405.00,714.92H416.00M405.00,700.11H411.60M405.00,685.30H411.60M405.00,670.48H411.60M405.00,655.67H411.60M405.00,640.86H416.00M405.00,626.05H411.60M405.00,611.24H411.60M405.00,596.42H411.60M405.00,581.61H411.60" fill="none" stroke="#000" stroke-width="10"/>
<path d="M433.25,566.80V573.20M460.50,566.80V573.20M487.75,566.80V573.20M515.00,566.80V573.20M542.25,566.80V573.20M569.50,566.80V573.20M596.75,566.80V573.20M624.00,566.80V573.20M651.25,566.80V573.20M678.50,566.80V573.20M705.75,566.80V573.20M733.00,566.80V573.20M760.25,566.80V573.20M787.50,566.80V573.20M814.75,566.80V573.20M842.00,566.80V573.20M869.25,566.80V573.20M896.50,566.80V573.20M923.75,566.80V573.20M951.00,922.99H944.70M951.00,908.18H944.70M951.00,893.36H944.70M951.00,878.55H944.70M951.00,863.74H944.70M951.00,848.93H944.70M951.00,834.12H944.70M951.00,819.30H944.70M951.00,804.49H944.70M951.00,789.68H944.70M951.00,774.87H944.70M951.00,760.06H944.70M951.00,745.24H944.70M951.00,730.43H944.70M951.00,715.62H944.70M951.00,700.81H944.70M951.00,686.00H944.70M951.00,671.18H944.70M951.00,656.37H944.70M951.00,641.56H944.70M951.00,626.75H944.70M951.00,611.94H944.70M951.00,597.12H944.70M951.00,582.31H944.70" fill="none" stroke="#000" stroke-width="2.2"/>
<defs><clipPath id="c_y100"><path d="M-400,-200H600V-8.18H-400ZM-108.02,-9.18H-96.90V1.10H-108.02ZM-84.21,-200H600V60H-84.21ZM-400,-200H-121.69V60H-400Z"/></clipPath><clipPath id="c_x100"><path d="M-400,-200H600V-8.18H-400ZM-45.95,-9.18H-34.83V1.10H-45.95ZM-22.14,-200H600V60H-22.14ZM-400,-200H-59.62V60H-400Z"/></clipPath><clipPath id="c_yl_J"><path d="M-50.00,60.00 L120.00,60.00 L120.00,-120.00 L30.46,-56.03 L27.12,-38.26 L-50.00,-38.26Z"/></clipPath><clipPath id="c_legN1.5"><path d="M-400,-200H600V-5.36H-400ZM16.82,-6.36H22.85V0.60H16.82ZM37.32,-200H600V60H37.32ZM-400,-200H2.29V60H-400Z"/></clipPath><clipPath id="c_legN1.0"><path d="M-400,-200H600V-5.36H-400ZM16.82,-6.36H22.85V0.60H16.82ZM37.32,-200H600V60H37.32ZM-400,-200H2.29V60H-400Z"/></clipPath><clipPath id="c_iy1"><path d="M-400,-200H600V-6.41H-400ZM-18.53,-7.41H-9.94V0.95H-18.53ZM0.00,-200H600V60H0.00ZM-400,-200H-29.23V60H-400Z"/></clipPath><clipPath id="c_ix5"><path d="M-400,-200H600V-6.41H-400ZM-26.76,-7.41H-18.17V0.95H-26.76ZM-8.23,-200H600V60H-8.23ZM-400,-200H-37.46V60H-400Z"/></clipPath></defs>
<text id="y0" class="b" transform="translate(214.30,1214.00) scale(0.8580,1.0000)" font-size="71.80" text-anchor="end" stroke="#000" stroke-width="1.00" vector-effect="non-scaling-stroke" stroke-linejoin="round" letter-spacing="1.45">0</text>
<text id="y20" class="b" transform="translate(215.60,981.00) scale(0.8580,1.0000)" font-size="71.80" text-anchor="end" stroke="#000" stroke-width="1.00" vector-effect="non-scaling-stroke" stroke-linejoin="round" letter-spacing="1.45">20</text>
<text id="y40" class="b" transform="translate(216.20,749.00) scale(0.8580,1.0000)" font-size="71.80" text-anchor="end" stroke="#000" stroke-width="1.00" vector-effect="non-scaling-stroke" stroke-linejoin="round" letter-spacing="2.15">40</text>
<text id="y60" class="b" transform="translate(215.60,516.00) scale(0.8580,1.0000)" font-size="71.80" text-anchor="end" stroke="#000" stroke-width="1.00" vector-effect="non-scaling-stroke" stroke-linejoin="round" letter-spacing="1.45">60</text>
<text id="y80" class="b" transform="translate(215.50,283.00) scale(0.8580,1.0000)" font-size="71.80" text-anchor="end" stroke="#000" stroke-width="1.00" vector-effect="non-scaling-stroke" stroke-linejoin="round" letter-spacing="1.45">80</text>
<text id="y100" class="b" transform="translate(211.60,51.00) scale(0.8580,1.0000)" font-size="71.80" text-anchor="end" clip-path="url(#c_y100)" stroke="#000" stroke-width="1.00" vector-effect="non-scaling-stroke" stroke-linejoin="round" letter-spacing="1.45">100</text>
<text id="x0" class="b" transform="translate(228.60,1274.00) scale(0.8580,1.0000)" font-size="71.80" text-anchor="middle" stroke="#000" stroke-width="1.00" vector-effect="non-scaling-stroke" stroke-linejoin="round" letter-spacing="1.45">0</text>
<text id="x20" class="b" transform="translate(571.30,1274.00) scale(0.8580,1.0000)" font-size="71.80" text-anchor="middle" stroke="#000" stroke-width="1.00" vector-effect="non-scaling-stroke" stroke-linejoin="round" letter-spacing="1.45">20</text>
<text id="x40" class="b" transform="translate(914.00,1274.00) scale(0.8580,1.0000)" font-size="71.80" text-anchor="middle" stroke="#000" stroke-width="1.00" vector-effect="non-scaling-stroke" stroke-linejoin="round" letter-spacing="2.15">40</text>
<text id="x60" class="b" transform="translate(1256.00,1274.00) scale(0.8580,1.0000)" font-size="71.80" text-anchor="middle" stroke="#000" stroke-width="1.00" vector-effect="non-scaling-stroke" stroke-linejoin="round" letter-spacing="1.45">60</text>
<text id="x80" class="b" transform="translate(1598.50,1274.00) scale(0.8580,1.0000)" font-size="71.80" text-anchor="middle" stroke="#000" stroke-width="1.00" vector-effect="non-scaling-stroke" stroke-linejoin="round" letter-spacing="1.45">80</text>
<text id="x100" class="b" transform="translate(1938.60,1274.00) scale(0.8580,1.0000)" font-size="71.80" text-anchor="middle" clip-path="url(#c_x100)" stroke="#000" stroke-width="1.00" vector-effect="non-scaling-stroke" stroke-linejoin="round" letter-spacing="1.45">100</text>
<text id="xl_rho" class="b i" transform="translate(1046.44,1394.00) scale(0.9400,1.0000)" font-size="70.00" text-anchor="start" stroke="#000" stroke-width="0.80" vector-effect="non-scaling-stroke" stroke-linejoin="round">ρ</text>
<text id="xl_T" class="b" transform="translate(1084.50,1394.00) scale(0.8440,1.0000)" font-size="74.00" text-anchor="start">T</text>
<text id="yl_J" class="b i" transform="translate(59.38,696.01) rotate(-89.97) scale(1.0441,0.9747)" font-size="67.50" text-anchor="start" clip-path="url(#c_yl_J)" stroke="#000" stroke-width="0.60" vector-effect="non-scaling-stroke" stroke-linejoin="round">J</text>
<text id="yl_z" class="b i" transform="translate(32.40,658.12) rotate(-89.97) scale(1.0449,0.9205)" font-size="47.25" text-anchor="start" stroke="#000" stroke-width="0.50" vector-effect="non-scaling-stroke" stroke-linejoin="round">z</text>
<text id="yl_A" class="b i" transform="translate(74.00,658.47) rotate(-89.97) scale(1.0522,0.9875)" font-size="47.25" text-anchor="start" stroke="#000" stroke-width="0.50" vector-effect="non-scaling-stroke" stroke-linejoin="round">A</text>
<text id="yl_sl" class="b" transform="translate(58.67,616.50) rotate(-89.97) scale(1.0785,0.9321)" font-size="67.50" text-anchor="start" stroke="#000" stroke-width="0.60" vector-effect="non-scaling-stroke" stroke-linejoin="round">/</text>
<text id="yl_T" class="b i" transform="translate(59.70,590.36) rotate(-89.97) scale(0.9961,0.9790)" font-size="67.50" text-anchor="start" stroke="#000" stroke-width="0.60" vector-effect="non-scaling-stroke" stroke-linejoin="round">T</text>
<text id="yl_3" class="b i" transform="translate(32.52,543.34) rotate(-89.97) scale(0.9141,0.9634)" font-size="47.25" text-anchor="start" stroke="#000" stroke-width="0.50" vector-effect="non-scaling-stroke" stroke-linejoin="round">3</text>
<text id="legA1.5" class="r" transform="translate(1390.96,161.00) scale(0.8663,1.0000)" font-size="67.10" text-anchor="start"><tspan class="i">μ</tspan>/T</text>
<text id="legE1.5" class="r" transform="translate(1472.40,164.00) scale(0.8850,0.9000)" font-size="67.10" text-anchor="start">=</text>
<text id="legN1.5" class="r" transform="translate(1508.41,161.00) scale(0.8663,1.0000)" font-size="67.10" text-anchor="start" clip-path="url(#c_legN1.5)">1.5</text>
<text id="legA1.0" class="r" transform="translate(1390.96,275.00) scale(0.8663,1.0000)" font-size="67.10" text-anchor="start"><tspan class="i">μ</tspan>/T</text>
<text id="legE1.0" class="r" transform="translate(1472.40,278.00) scale(0.8850,0.9000)" font-size="67.10" text-anchor="start">=</text>
<text id="legN1.0" class="r" transform="translate(1508.41,275.00) scale(0.8663,1.0000)" font-size="67.10" text-anchor="start" clip-path="url(#c_legN1.0)">1.0</text>
<text id="legA0.5" class="r" transform="translate(1390.96,389.00) scale(0.8663,1.0000)" font-size="67.10" text-anchor="start"><tspan class="i">μ</tspan>/T</text>
<text id="legE0.5" class="r" transform="translate(1472.40,392.00) scale(0.8850,0.9000)" font-size="67.10" text-anchor="start">=</text>
<text id="legN0.5" class="r" transform="translate(1508.41,389.00) scale(0.8663,1.0000)" font-size="67.10" text-anchor="start">0.5</text>
<text id="iy0" class="b" transform="translate(388.30,959.00) scale(0.8680,1.0000)" font-size="56.00" text-anchor="end" stroke="#000" stroke-width="0.70" vector-effect="non-scaling-stroke" stroke-linejoin="round">0</text>
<text id="iy1" class="b" transform="translate(388.30,885.00) scale(0.8680,1.0000)" font-size="56.00" text-anchor="end" clip-path="url(#c_iy1)" stroke="#000" stroke-width="0.70" vector-effect="non-scaling-stroke" stroke-linejoin="round">1</text>
<text id="iy2" class="b" transform="translate(388.30,811.00) scale(0.8680,1.0000)" font-size="56.00" text-anchor="end" stroke="#000" stroke-width="0.70" vector-effect="non-scaling-stroke" stroke-linejoin="round">2</text>
<text id="iy3" class="b" transform="translate(388.30,737.00) scale(0.8680,1.0000)" font-size="56.00" text-anchor="end" stroke="#000" stroke-width="0.70" vector-effect="non-scaling-stroke" stroke-linejoin="round">3</text>
<text id="iy4" class="b" transform="translate(388.30,662.00) scale(0.8680,1.0000)" font-size="56.00" text-anchor="end" stroke="#000" stroke-width="0.70" vector-effect="non-scaling-stroke" stroke-linejoin="round">4</text>
<text id="iy5" class="b" transform="translate(388.30,588.00) scale(0.8680,1.0000)" font-size="56.00" text-anchor="end" stroke="#000" stroke-width="0.70" vector-effect="non-scaling-stroke" stroke-linejoin="round">5</text>
<text id="ix0" class="b" transform="translate(405.00,1008.00) scale(0.8680,1.0000)" font-size="56.00" text-anchor="middle" stroke="#000" stroke-width="0.70" vector-effect="non-scaling-stroke" stroke-linejoin="round" letter-spacing="0.30">0.0</text>
<text id="ix1" class="b" transform="translate(514.20,1008.00) scale(0.8680,1.0000)" font-size="56.00" text-anchor="middle" stroke="#000" stroke-width="0.70" vector-effect="non-scaling-stroke" stroke-linejoin="round" letter-spacing="0.30">0.2</text>
<text id="ix2" class="b" transform="translate(623.40,1008.00) scale(0.8680,1.0000)" font-size="56.00" text-anchor="middle" stroke="#000" stroke-width="0.70" vector-effect="non-scaling-stroke" stroke-linejoin="round" letter-spacing="0.30">0.4</text>
<text id="ix3" class="b" transform="translate(732.60,1008.00) scale(0.8680,1.0000)" font-size="56.00" text-anchor="middle" stroke="#000" stroke-width="0.70" vector-effect="non-scaling-stroke" stroke-linejoin="round" letter-spacing="0.30">0.6</text>
<text id="ix4" class="b" transform="translate(841.80,1008.00) scale(0.8680,1.0000)" font-size="56.00" text-anchor="middle" stroke="#000" stroke-width="0.70" vector-effect="non-scaling-stroke" stroke-linejoin="round" letter-spacing="0.30">0.8</text>
<text id="ix5" class="b" transform="translate(951.00,1008.00) scale(0.8680,1.0000)" font-size="56.00" text-anchor="middle" clip-path="url(#c_ix5)" stroke="#000" stroke-width="0.70" vector-effect="non-scaling-stroke" stroke-linejoin="round" letter-spacing="0.30">1.0</text>
</svg></body></html>
